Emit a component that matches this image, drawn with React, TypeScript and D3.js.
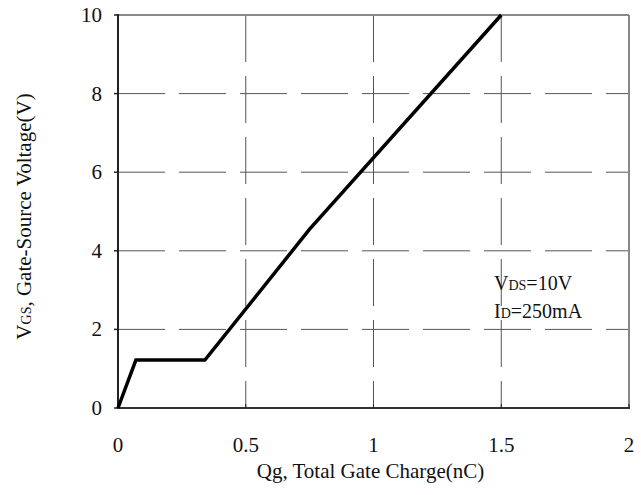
import React from "react";
import * as d3 from "d3";

const qg = [0, 0.07, 0.34, 0.75, 1.5];
const vgs = [0, 1.22, 1.22, 4.55, 10];
const xTicks = [0, 0.5, 1, 1.5, 2];
const yTicks = [0, 2, 4, 6, 8, 10];
const xTickLabels = ["0", "0.5", "1", "1.5", "2"];
const yTickLabels = ["0", "2", "4", "6", "8", "10"];

const W = 641;
const H = 495;
const FONT = "'Liberation Serif', 'DejaVu Serif', serif";

export default function App() {
  const x = d3.scaleLinear().domain([0, 2]).range([118, 629]);
  const y = d3.scaleLinear().domain([0, 10]).range([408, 15]);
  const pts: [number, number][] = qg.map((q, i) => [q, vgs[i]]);
  const line = d3
    .line<[number, number]>()
    .x((d) => x(d[0]))
    .y((d) => y(d[1]));

  const [x0, x1] = x.range();
  const [y0, y1] = y.range();

  return (
    <div style={{ position: "absolute", left: 0, top: 0 }}>
      <svg width={W} height={H} style={{ display: "block", background: "#fff" }}>
        {yTicks
          .filter((t) => t > 0 && t < 10)
          .map((t) => (
            <line
              key={"hg" + t}
              x1={x0}
              x2={x1}
              y1={y(t)}
              y2={y(t)}
              stroke="#555"
              strokeWidth={1}
              strokeDasharray="47,14"
            />
          ))}
        {xTicks
          .filter((t) => t > 0 && t < 2)
          .map((t) => (
            <line
              key={"vg" + t}
              x1={x(t)}
              x2={x(t)}
              y1={y1}
              y2={y0}
              stroke="#555"
              strokeWidth={1}
              strokeDasharray="47,14"
            />
          ))}
        <line x1={x0} x2={x1} y1={y1} y2={y1} stroke="#888" strokeWidth={2} />
        <line x1={x1} x2={x1} y1={y1} y2={y0} stroke="#888" strokeWidth={2} />
        <line x1={x0} x2={x0} y1={y1 - 1} y2={y0 + 1} stroke="#222" strokeWidth={2} />
        <line x1={x0} x2={x1 + 1} y1={y0} y2={y0} stroke="#333" strokeWidth={2} />
        {yTicks.map((t) => (
          <line key={"yt" + t} x1={x0 - 4} x2={x0} y1={y(t)} y2={y(t)} stroke="#222" strokeWidth={1.5} />
        ))}
        {xTicks.map((t) => (
          <line key={"xt" + t} x1={x(t)} x2={x(t)} y1={y0} y2={y0 - 4} stroke="#222" strokeWidth={1} />
        ))}
        <path
          d={line(pts) || ""}
          fill="none"
          stroke="#000"
          strokeWidth={3.5}
          strokeLinejoin="miter"
        />
        {yTicks.map((t, i) => (
          <text
            key={"yl" + t}
            x={102}
            y={y(t) + 7}
            textAnchor="end"
            fontFamily={FONT}
            fontSize={21}
            fill="#111"
          >
            {yTickLabels[i]}
          </text>
        ))}
        {xTicks.map((t, i) => (
          <text
            key={"xl" + t}
            x={x(t)}
            y={452}
            textAnchor="middle"
            fontFamily={FONT}
            fontSize={21}
            fill="#111"
          >
            {xTickLabels[i]}
          </text>
        ))}
        <text
          x={(x0 + x1) / 2 - 3}
          y={478}
          textAnchor="middle"
          fontFamily={FONT}
          fontSize={21}
          fill="#111"
        >
          Qg, Total Gate Charge(nC)
        </text>
        <text
          transform={`translate(31, ${(y0 + y1) / 2 + 5}) rotate(-90)`}
          textAnchor="middle"
          fontFamily={FONT}
          fontSize={21}
          fill="#111"
        >
          V<tspan fontSize={14}>GS</tspan>, Gate-Source Voltage(V)
        </text>
        <text x={494} y={290} fontFamily={FONT} fontSize={20} fill="#111">
          V<tspan fontSize={14}>DS</tspan>=10V
        </text>
        <text x={494} y={318} fontFamily={FONT} fontSize={20} fill="#111">
          I<tspan fontSize={14}>D</tspan>=250mA
        </text>
      </svg>
    </div>
  );
}
